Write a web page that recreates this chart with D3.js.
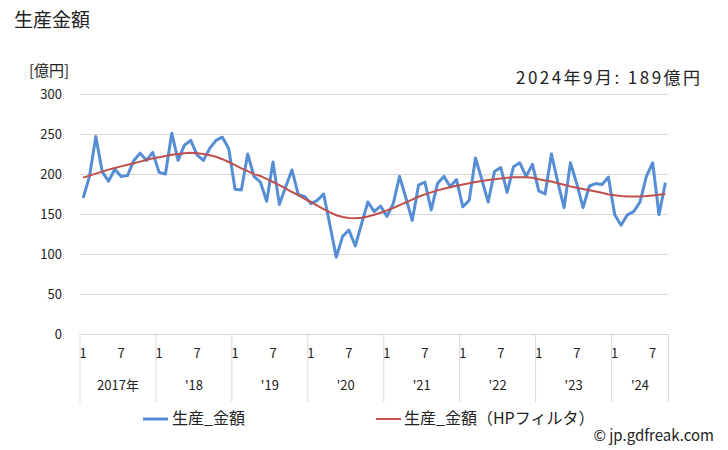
<!DOCTYPE html>
<html><head><meta charset="utf-8">
<script src="https://cdn.jsdelivr.net/npm/d3@7"></script>
<style>body{margin:0;background:#fff}svg{display:block}text{font-family:"Noto Sans CJK JP","Noto Sans",sans-serif;fill:#222}</style>
</head><body><svg id="c" width="728" height="450"></svg>
<script>
const years = ["2017年","'18","'19","'20","'21","'22","'23","'24"];
const yTicks = [0,50,100,150,200,250,300];
const production = [
170,197,247,203,191,206,197,198,217,226,217,227,
202,200,251,217,236,242,224,217,232,242,246,232,
181,180,225,197,190,166,215,162,184,205,174,172,
163,167,175,136,96,122,130,110,138,165,153,160,
147,163,197,170,142,186,190,155,188,197,184,193,
159,167,220,193,165,203,208,177,209,214,197,212,
179,175,225,190,158,214,188,158,185,188,187,196,
149,136,149,153,165,197,214,149,189];
const hpTrend = [
195.5,198,200.5,203,205.5,207.5,209.5,211.5,213.5,215.5,217.5,219.5,
221,222.5,224,225,226,226.5,226,225,223.5,221.5,218.5,215,
211,207,203.5,200,197.5,194,190,186,182,177.5,173.5,169,
165,160.5,156,152,148.5,146.3,145,144.6,145.2,146.8,149,151.5,
154.5,157.5,161,164.5,168,171.5,174.5,177,179.5,181.5,183.5,185.3,
187,188.5,190,191.3,192.5,193.5,194.5,195.3,195.8,196,195.8,195.2,
193.5,192,190.5,188.5,186.5,184.5,182.8,181.2,179.6,178,176.5,174.5,
173.3,172.5,172,171.8,172,172.5,173.2,174,175];
const latestLabel = "2024年9月: 189億円";

const svg = d3.select("#c");
const L=80, R=668.5, T=94, B=334;
const n = production.length;
const x = d3.scaleBand().domain(d3.range(n)).range([L,R]).padding(0);
const y = d3.scaleLinear().domain([0,300]).range([B,T]);
const cx = i => x(i)+x.bandwidth()/2;

svg.append("text").attr("x",14).attr("y",27).attr("font-size",19).text("生産金額");
svg.append("text").attr("x",29).attr("y",76).attr("font-size",15).text("[億円]");
svg.append("text").attr("x",700).attr("y",84).attr("font-size",17).attr("text-anchor","end")
  .attr("textLength",184).attr("lengthAdjust","spacing").text(latestLabel);

// grid
const yAxis = d3.axisLeft(y).tickValues(yTicks).tickSize(-(R-L)).tickPadding(18);
const ga = svg.append("g").attr("transform",`translate(${L},0)`).call(yAxis);
ga.select(".domain").remove();
ga.selectAll(".tick line").attr("stroke","#d9d9d9");
ga.selectAll(".tick text").attr("font-size",13).attr("fill","#222").style("font-family",'"Noto Sans CJK JP","Noto Sans",sans-serif');

// x separators
const bounds = d3.range(0,n,12).concat([n]);
bounds.forEach(b=>{
  const xx = b<n ? x(b) : R;
  svg.append("line").attr("x1",xx).attr("x2",xx).attr("y1",B).attr("y2",402).attr("stroke","#d9d9d9");
});
// month labels
d3.range(n).forEach(i=>{
  const m = i%12;
  if(m===0||m===6){
    svg.append("text").attr("x",cx(i)).attr("y",358).attr("font-size",13).attr("text-anchor","middle").text(m+1);
  }
});
years.forEach((yr,k)=>{
  const s = k*12, e = Math.min(n,(k+1)*12);
  const xm = (x(s)+(e<n?x(e):R))/2;
  svg.append("text").attr("x",xm).attr("y",390).attr("font-size",13).attr("text-anchor","middle").text(yr);
});

const line = d3.line().x((d,i)=>cx(i)).y(d=>y(d));
svg.append("path").datum(production).attr("d",line).attr("fill","none").attr("stroke","#558ed5").attr("stroke-width",3).attr("stroke-linejoin","round");
svg.append("path").datum(hpTrend).attr("d",line).attr("fill","none").attr("stroke","#c0504d").attr("stroke-width",2);

// legend
svg.append("line").attr("x1",143).attr("x2",168).attr("y1",419).attr("y2",419).attr("stroke","#558ed5").attr("stroke-width",3);
svg.append("text").attr("x",172).attr("y",424).attr("font-size",16).text("生産_金額");
svg.append("line").attr("x1",376).attr("x2",401).attr("y1",419).attr("y2",419).attr("stroke","#c0504d").attr("stroke-width",2);
svg.append("text").attr("x",404).attr("y",424).attr("font-size",16).text("生産_金額（HPフィルタ）");
svg.append("text").attr("x",714).attr("y",441).attr("font-size",15).attr("text-anchor","end").text("© jp.gdfreak.com");
</script></body></html>
